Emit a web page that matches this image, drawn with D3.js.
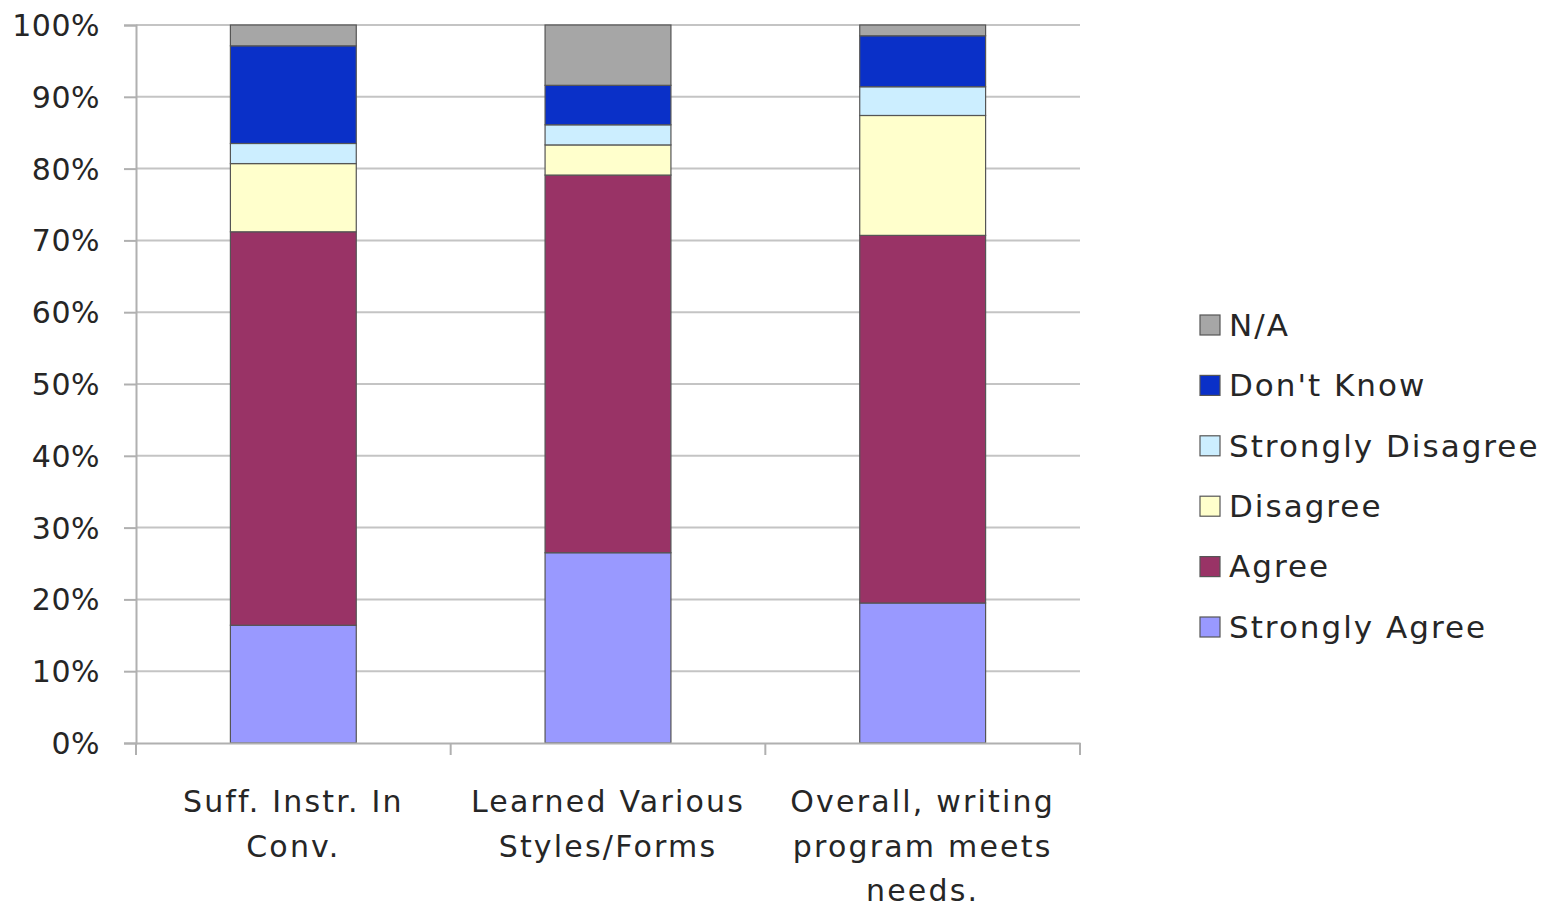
<!DOCTYPE html>
<html><head><meta charset="utf-8">
<script src="https://cdn.jsdelivr.net/npm/d3@7"></script>
<style>
html,body{margin:0;padding:0;background:#fff;}
svg text{font-family:"DejaVu Sans",sans-serif;fill:#262626;}
</style></head>
<body><svg id="c" width="1551" height="911"></svg>
<script>
const categories = [["Suff. Instr. In","Conv."],["Learned Various","Styles/Forms"],["Overall, writing","program meets","needs."]];
const seriesNames = ["Strongly Agree","Agree","Disagree","Strongly Disagree","Don't Know","N/A"];
const stronglyAgree    = [16.4, 26.5, 19.5];
const agree            = [54.8, 52.6, 51.2];
const disagree         = [9.5, 4.2, 16.7];
const stronglyDisagree = [2.8, 2.8, 4.0];
const dontKnow         = [13.6, 5.5, 7.1];
const na               = [2.9, 8.4, 1.5];
const yTicks = [0,10,20,30,40,50,60,70,80,90,100];
const colors = ["#9999ff","#993366","#ffffcc","#cceeff","#0a30c8","#a6a6a6"];

const seriesValues = [stronglyAgree, agree, disagree, stronglyDisagree, dontKnow, na];
const rows = categories.map((c,i)=>{const r={cat:i}; seriesNames.forEach((s,k)=>r[s]=seriesValues[k][i]); return r;});
const stack = d3.stack().keys(seriesNames)(rows);

const svg = d3.select("#c");
const L=136, R=1080, T=25, B=743;
const x = d3.scaleBand().domain([0,1,2]).range([L,R]).paddingInner(0.6).paddingOuter(0.3);
const y = d3.scaleLinear().domain([0,100]).range([B,T]);

// gridlines
svg.append("g").selectAll("line").data(yTicks.filter(t=>t>0)).join("line")
  .attr("x1",L).attr("x2",R).attr("y1",d=>y(d)).attr("y2",d=>y(d))
  .attr("stroke","#c4c4c4").attr("stroke-width",2);

// bars
svg.append("g").selectAll("g").data(stack).join("g")
  .attr("fill",(d,i)=>colors[i])
  .selectAll("rect").data(d=>d).join("rect")
  .attr("x",d=>x(d.data.cat)).attr("width",x.bandwidth())
  .attr("y",d=>y(d[1])).attr("height",d=>y(d[0])-y(d[1]))
  .attr("stroke","#555").attr("stroke-width",1.2);

// y axis
const ya = svg.append("g").attr("transform",`translate(${L},0)`)
  .call(d3.axisLeft(y).tickValues(yTicks).tickFormat(d=>d+"%").tickSize(12).tickPadding(24));
ya.select(".domain").attr("stroke","#b0b0b0").attr("stroke-width",2);
ya.selectAll(".tick line").attr("stroke","#b0b0b0").attr("stroke-width",2);
ya.selectAll(".tick text").attr("font-size",30).attr("font-family","DejaVu Sans").attr("fill","#262626").attr("dy","0.35em").attr("letter-spacing",0.5);

// x axis
const xa = svg.append("g").attr("transform",`translate(0,${B})`)
  .call(d3.axisBottom(x).tickSize(0).tickFormat(""));
xa.select(".domain").attr("stroke","#b0b0b0").attr("stroke-width",2);
const step = x.step();
const bounds = [0,1,2].map(i=>x(i)-step*0.3).concat([x(2)+x.bandwidth()+step*0.3]);
xa.selectAll(".bt").data(bounds).join("line").attr("class","bt")
  .attr("x1",d=>d).attr("x2",d=>d).attr("y1",0).attr("y2",12)
  .attr("stroke","#b0b0b0").attr("stroke-width",2);

// category labels
svg.append("g").selectAll("text").data(categories).join("text")
  .attr("x",(d,i)=>x(i)+x.bandwidth()/2).attr("y",812)
  .attr("text-anchor","middle").attr("font-size",30).attr("letter-spacing",2.2)
  .selectAll("tspan").data(d=>d).join("tspan")
  .attr("x",function(){return this.parentNode.getAttribute("x");})
  .attr("dy",(d,j)=>j===0?0:44.5).text(d=>d);

// legend
const legendOrder = seriesNames.slice().reverse();
const lg = svg.append("g").selectAll("g").data(legendOrder).join("g")
  .attr("transform",(d,i)=>`translate(1200,${325+i*60.4})`);
lg.append("rect").attr("x",0).attr("y",-10).attr("width",20).attr("height",20)
  .attr("fill",d=>colors[seriesNames.indexOf(d)]).attr("stroke","#555").attr("stroke-width",1.2);
lg.append("text").attr("x",29).attr("y",0).attr("dy","0.35em").attr("font-size",31).attr("letter-spacing",2).text(d=>d);
</script></body></html>
